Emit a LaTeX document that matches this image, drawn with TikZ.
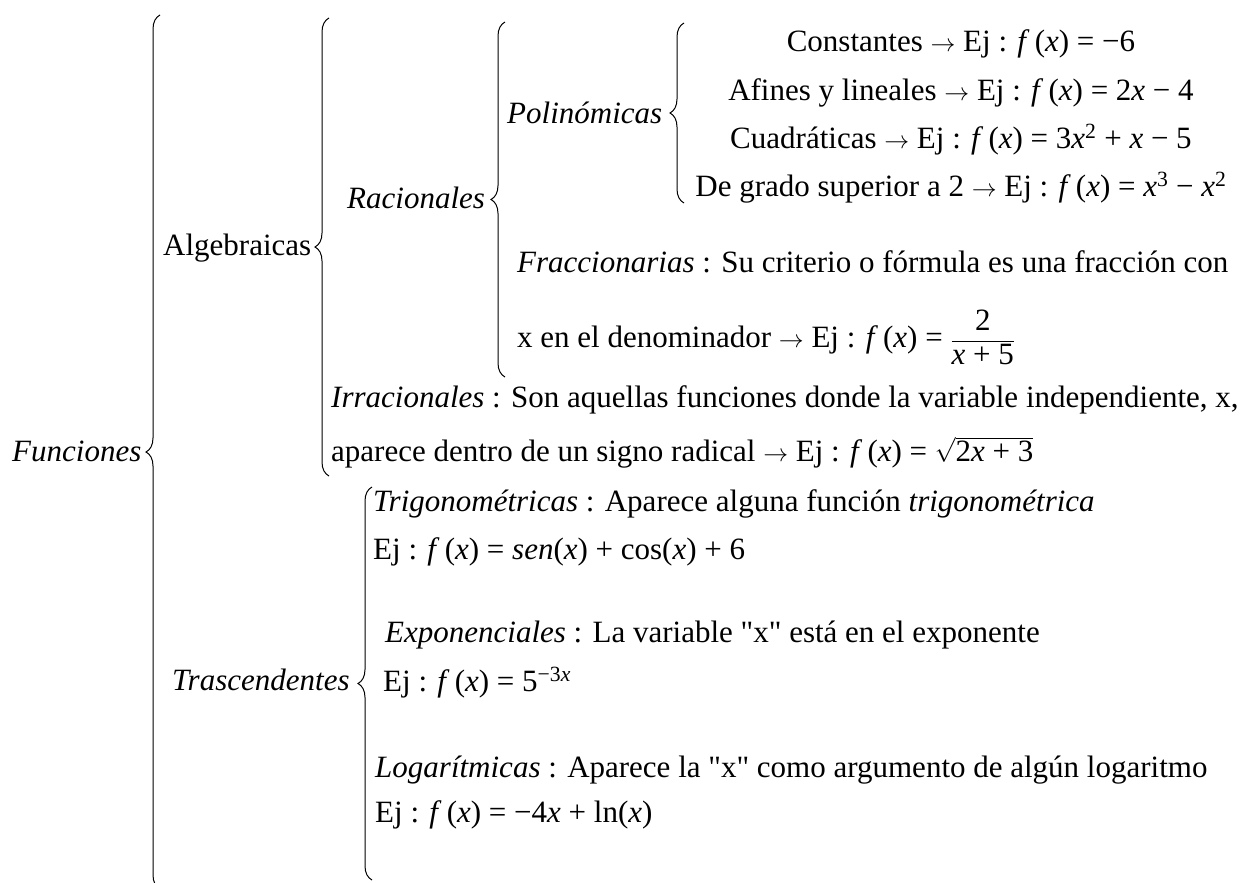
\documentclass[tikz,border=0pt]{standalone}
\usepackage{fontspec}
\setmainfont{Liberation Serif}[Ligatures=TeXOff]
\usetikzlibrary{decorations.pathreplacing}

% pieces that repeat in the examples
\newcommand{\va}{\textit{x}}
\newcommand{\fx}{\textit{f}\,(\va)}
\newcommand{\ej}{Ej : \fx{} =}
\newcommand{\flecha}{$\rightarrow$}

\begin{document}
\begin{tikzpicture}[x=1pt,y=-1pt,
    every node/.style={inner sep=0pt, font=\fontsize{31}{37}\selectfont},
    lbl/.style={anchor=base west},
    item/.style={anchor=base},
    llave/.style={decorate, decoration={brace, amplitude=14pt}, line width=1pt}]

    \useasboundingbox (0,0) rectangle (1247,883);

    % Main classes
    \node[lbl] (fun) at (12,461) {\textit{Funciones}};
    \node[lbl] (alg) at (163,255) {Algebraicas};
    \node[lbl] (tra) at (172,690) {\textit{Trascendentes}};

    % Algebraic functions
    \node[lbl] (rac) at (347,208) {\textit{Racionales}};
    \node[lbl] (pol) at (507,123) {\textit{Polinómicas}};
    \node[lbl] (irr) at (331,407) {\textit{Irracionales} : Son aquellas funciones donde la variable independiente, x,};
    \node[lbl] (irrb) at (331,461) {aparece dentro de un signo radical \flecha{} \ej{} $\sqrt{\mbox{2\va{} + 3}}$};

    % Loop over the polynomial cases
    \foreach \txt [count=\k] in {Constantes \flecha{} \ej{} −6,
        Afines y lineales \flecha{} \ej{} 2\va{} − 4,
        Cuadráticas \flecha{} \ej{} 3\va\textsuperscript{2} + \va{} − 5,
        De grado superior a 2 \flecha{} \ej{} \va\textsuperscript{3} − \va\textsuperscript{2}} {
        \node[item] (p\k) at (961, 4+48*\k) {\txt};
    }

    \node[lbl] (fra) at (517,272) {\textit{Fraccionarias} : Su criterio o fórmula es una fracción con};
    \node[lbl] (frab) at (517,347) {x en el denominador \flecha{} \ej{} $\displaystyle\frac{\mbox{2}}{\mbox{\va{} + 5}}$};

    % Transcendental functions
    \node[lbl] (tri) at (373,511) {\textit{Trigonométricas} : Aparece alguna función \textit{trigonométrica}};
    \node[lbl] (trib) at (373,559) {\ej{} \textit{sen}(\va) + cos(\va) + 6};
    \node[lbl] (exp) at (385,642) {\textit{Exponenciales} : La variable "x" está en el exponente};
    \node[lbl] (expb) at (383,691) {\ej{} 5\textsuperscript{−3\va}};
    \node[lbl] (log) at (375,777) {\textit{Logarítmicas} : Aparece la "x" como argumento de algún logaritmo};
    \node[lbl] (logb) at (375,822) {\ej{} −4\va{} + ln(\va)};

    % Brace ends
    \coordinate (f1) at (160,889);  \coordinate (f2) at (160,15);
    \coordinate (a1) at (329,476);  \coordinate (a2) at (329,18);
    \coordinate (r1) at (505,377);  \coordinate (r2) at (505,22);
    \coordinate (q1) at (684,203);  \coordinate (q2) at (684,23);
    \coordinate (t1) at (372,880);  \coordinate (t2) at (372,487);

    \draw[llave] (f1) -- (f2);
    \draw[llave] (a1) -- (a2);
    \draw[llave] (r1) -- (r2);
    \draw[llave] (q1) -- (q2);
    \draw[llave] (t1) -- (t2);

\end{tikzpicture}
\end{document}
